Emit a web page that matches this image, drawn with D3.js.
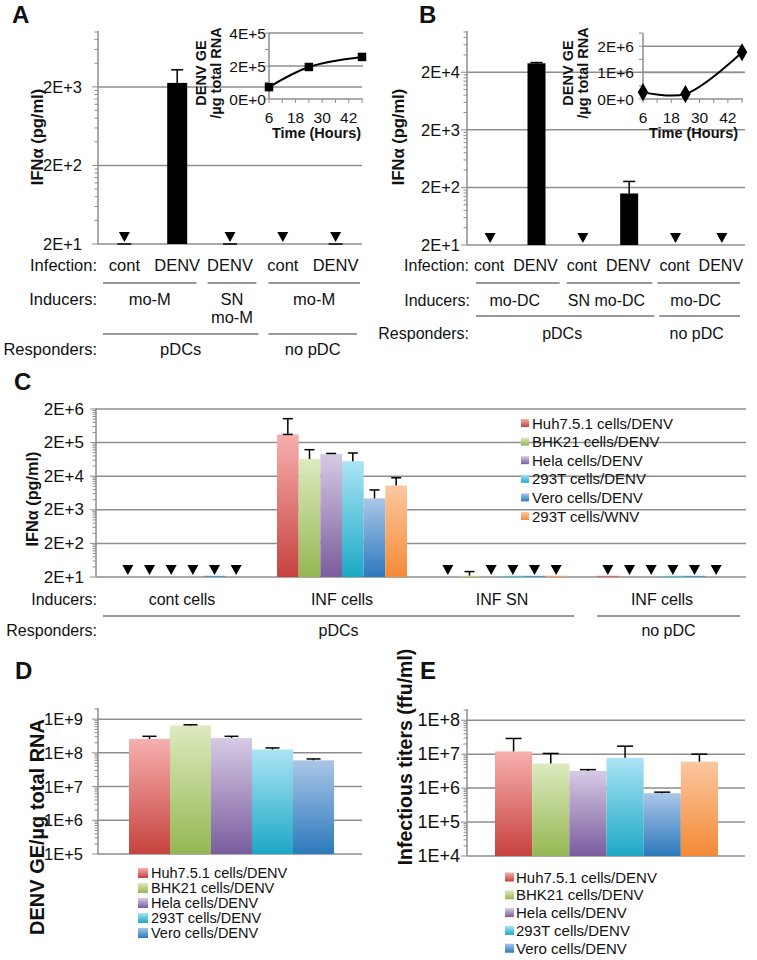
<!DOCTYPE html>
<html><head><meta charset="utf-8">
<script src="https://cdn.jsdelivr.net/npm/d3@7"></script>
<style>
body{margin:0;background:#fff}
svg{display:block}
text{font-family:"Liberation Sans",Arial,Helvetica,sans-serif;fill:#111}
</style></head>
<body>
<script>
// ================= DATA =================
// Panel A
const infectionA = ["cont","DENV","DENV","cont","DENV"];
const ifnA       = [0, 2250, 0, 0, 0];
const ifnErrA    = [20, 3300, 20, null, 20];
const inducersA  = [["mo-M"], ["SN","mo-M"], ["mo-M"]];
const inducerSpanA = [[0,1],[2,2],[3,4]];
const respondersA  = ["pDCs","no pDC"];
const responderSpanA = [[0,2],[3,4]];
const yTicksA = [20, 200, 2000];
// Inset A
const hoursA   = [6, 24, 48];
const genomesA = [72000, 194000, 255000];
const insetTicksA = [0, 200000, 400000];
const hourTicks = [6, 18, 30, 42];

// Panel B
const infectionB = ["cont","DENV","cont","DENV","cont","DENV"];
const ifnB       = [0, 28600, 0, 157, 0, 0];
const ifnErrB    = [null, 29500, null, 254, null, null];
const inducersB  = ["mo-DC","SN mo-DC","mo-DC"];
const inducerSpanB = [[0,1],[2,3],[4,5]];
const respondersB  = ["pDCs","no pDC"];
const responderSpanB = [[0,3],[4,5]];
const yTicksB = [20, 200, 2000, 20000];
// Inset B
const hoursB   = [6, 24, 48];
const genomesB = [260000, 190000, 1770000];
const insetTicksB = [0, 1000000, 2000000];

// Panel C
const cellLines = ["Huh7.5.1 cells/DENV","BHK21 cells/DENV","Hela cells/DENV","293T cells/DENV","Vero cells/DENV","293T cells/WNV"];
const cellColors = [["#F7B0AE","#C6423E"],["#DDEABF","#95B752"],["#D6CAE4","#7A5C9E"],["#ABE4F5","#1CA8C5"],["#AAC6E8","#2C79BC"],["#FCC7A0","#F48A36"]];
const inducersC = ["cont cells","INF cells","INF SN","INF cells"];
const respondersC = ["pDCs","no pDC"];
const responderSpanC = [[0,2],[3,3]];
const ifnC = [ // per cell line, per inducer group
  [20, 350000, 20, 22],
  [20, 65000, 22, 20],
  [20, 91000, 20, 20],
  [20, 56000, 22, 22],
  [22, 4400, 22, 22],
  [20, 10500, 22, 20]
];
const ifnErrC = [
  [null, 1030000, null, null],
  [null, 123000, 29, null],
  [null, 95000, null, null],
  [null, 98000, null, null],
  [null, 7800, null, null],
  [null, 18000, null, null]
];
const yTicksC = [20, 200, 2000, 20000, 200000, 2000000];

// Panel D
const cellLinesD = cellLines.slice(0,5);
const genomesD = [2.6e8, 6.5e8, 2.75e8, 1.26e8, 6.0e7];
const genomesErrD = [3.1e8, 6.8e8, 3.1e8, 1.4e8, 6.6e7];
const yTicksD = [1e5, 1e6, 1e7, 1e8, 1e9];

// Panel E
const titersE = [1.2e7, 5.3e6, 3.2e6, 7.8e6, 7.1e5, 6.0e6];
const titersErrE = [2.9e7, 1.05e7, 3.5e6, 1.72e7, 7.6e5, 1.0e7];
const legendE = cellLines.slice(0,5);
const yTicksE = [1e4, 1e5, 1e6, 1e7, 1e8];

// ================= DRAWING =================
const GRID = "#8e8e8e";
const svg = d3.select("body").append("svg").attr("width",757).attr("height",960);
const defs = svg.append("defs");
cellColors.forEach((c,i)=>{
  const g = defs.append("linearGradient").attr("id","grad"+i)
    .attr("x1",0).attr("y1",0).attr("x2",0).attr("y2",1);
  g.append("stop").attr("offset","0%").attr("stop-color",c[0]);
  g.append("stop").attr("offset","100%").attr("stop-color",c[1]);
});

const fmtE = v => {
  if (v === 0) return "0E+0";
  const e = Math.floor(Math.log10(v) + 1e-9);
  const m = Math.round(v / Math.pow(10, e));
  return m + "E+" + e;
};
function line(x1,y1,x2,y2,stroke=GRID,w=1.5){
  svg.append("line").attr("x1",x1).attr("y1",y1).attr("x2",x2).attr("y2",y2)
    .attr("stroke",stroke).attr("stroke-width",w);
}
function txt(x,y,s,o={}){
  const t = svg.append("text").attr("x",x).attr("y",y).text(s)
    .attr("font-size",o.size||16.5).attr("text-anchor",o.anchor||"start")
    .attr("dominant-baseline","central");
  if (o.bold) t.attr("font-weight","bold");
  if (o.rotate) t.attr("transform",`rotate(-90,${x},${y})`);
  return t;
}
function logFrame(y, x0, x1, majors, labelRight, size){
  const d = y.domain();
  for (let dec = majors[0]; dec <= d[1]*1.0001; dec *= 10){
    for (let k=1;k<10;k++){
      const v = dec*k; if (v > d[1]*1.0001) break;
      line(x0-(k===1?6:3.5), y(v), x0, y(v), GRID, 1);
    }
  }
  majors.forEach(v=>{
    line(x0, y(v), x1, y(v));
    txt(labelRight, y(v), fmtE(v), {anchor:"end", size});
  });
  line(x0, y(d[1])-1, x0, y(d[0]));
}
function errBar(cx, yFrom, yTo, cap){
  line(cx, yFrom, cx, yTo, "#000", 1.5);
  line(cx-cap/2, yTo, cx+cap/2, yTo, "#000", 1.5);
}
function ndMark(cx, yBase){
  svg.append("path").attr("d",`M${cx-5.5},${yBase-12}L${cx+5.5},${yBase-12}L${cx},${yBase-2}Z`).attr("fill","#000");
}
function panelLabel(x,y,s){ txt(x,y,s,{bold:true,size:24}); }

// line under a group of categories; ins = [left inset, right inset]
function spanLine(x, span, y, ins){
  const a = x(span[0]) + ins[0], b = x(span[1]) + x.bandwidth() - ins[1];
  line(a, y, b, y, "#777", 1.5);
  return (a + b)/2;
}

// ---------- Inset ----------
function inset(hours, vals, ticks, xr, yr, yMax, tickLblRight, marker, labelX){
  const x = d3.scaleLinear().domain([6,48]).range(xr);
  const y = d3.scaleLinear().domain([0,yMax]).range(yr);
  const step = ticks[1]/2;
  for (let v=0; v<=yMax+1; v+=step) line(x(6)-4, y(v), x(6), y(v), GRID, 1);
  ticks.forEach(v=>{ if (v>0) line(x(6), y(v), xr[1]+1, y(v)); txt(tickLblRight, y(v), fmtE(v), {anchor:"end", size:15.5}); });
  line(x(6), y(yMax), x(6), y(0)); line(x(6), y(0), xr[1]+1, y(0));
  for (let h=6; h<=48; h+=6) line(x(h), y(0), x(h), y(0)+4, GRID, 1);
  hourTicks.forEach(h=> txt(x(h), 117, h, {anchor:"middle", size:15.5}));
  txt((xr[0]+xr[1])/2+1, 133, "Time (Hours)", {anchor:"middle", bold:true, size:14.5});
  txt(labelX, 73, "DENV GE", {anchor:"middle", bold:true, size:14.5, rotate:true});
  txt(labelX+15, 73, "/µg total RNA", {anchor:"middle", bold:true, size:14.5, rotate:true});
  const pts = hours.map((h,i)=>[x(h), y(vals[i])]);
  svg.append("path").attr("d", d3.line().curve(d3.curveCatmullRom.alpha(0.5))(pts))
    .attr("fill","none").attr("stroke","#000").attr("stroke-width",2);
  pts.forEach(p=>{
    svg.append("path").attr("transform",`translate(${p[0]},${p[1]})`)
      .attr("d", d3.symbol().type(marker).size(marker===d3.symbolSquare?72:95)())
      .attr("fill","#000");
  });
}

// ---------- Panel A ----------
{
  panelLabel(12, 14, "A");
  const y = d3.scaleLog().domain([20, 1e4]).range([244, 32]);
  const x = d3.scaleBand().domain(d3.range(infectionA.length)).range([98, 362]);
  logFrame(y, 98, 362, yTicksA, 82, 16.5);
  txt(37, 137, "IFNα (pg/ml)", {anchor:"middle", bold:true, rotate:true});
  ifnA.forEach((v,i)=>{
    const cx = x(i) + x.bandwidth()/2;
    if (v > 0){
      svg.append("rect").attr("x",cx-10).attr("width",20).attr("y",y(v)).attr("height",y(20)-y(v)).attr("fill","#000");
      if (ifnErrA[i]) errBar(cx, y(v), y(ifnErrA[i]), 12);
    } else {
      ndMark(cx, y(20));
      if (ifnErrA[i]) line(cx-7, y(ifnErrA[i]), cx+7, y(ifnErrA[i]), "#000", 1.5);
    }
    txt(cx, 265, infectionA[i], {anchor:"middle"});
  });
  txt(97, 265, "Infection:", {anchor:"end"});
  txt(97, 299, "Inducers:", {anchor:"end"});
  const insA = [[5,7],[4,0],[12,2]];
  inducerSpanA.forEach((s,k)=>{
    const c = spanLine(x, s, 283, insA[k]);
    inducersA[k].forEach((l,j)=> txt(c, 299 + j*18, l, {anchor:"middle"}));
  });
  txt(97, 349, "Responders:", {anchor:"end"});
  const insAR = [[5,-2],[12,5]];
  responderSpanA.forEach((s,k)=>{
    const c = spanLine(x, s, 334, insAR[k]);
    txt(c, 349, respondersA[k], {anchor:"middle"});
  });
  inset(hoursA, genomesA, insetTicksA, [269, 362], [99, 33], 400000, 266, d3.symbolSquare, 201);
}

// ---------- Panel B ----------
{
  panelLabel(419, 14, "B");
  const y = d3.scaleLog().domain([20, 1e5]).range([245, 32]);
  const x = d3.scaleBand().domain(d3.range(infectionB.length)).range([467, 745]);
  logFrame(y, 467, 745, yTicksB, 460, 16.5);
  txt(398, 137, "IFNα (pg/ml)", {anchor:"middle", bold:true, rotate:true});
  ifnB.forEach((v,i)=>{
    const cx = x(i) + x.bandwidth()/2;
    if (v > 0){
      svg.append("rect").attr("x",cx-9).attr("width",18).attr("y",y(v)).attr("height",y(20)-y(v)).attr("fill","#000");
      if (ifnErrB[i]) errBar(cx, y(v), y(ifnErrB[i]), 12);
    } else ndMark(cx, y(20));
    txt(cx-1, 265, infectionB[i], {anchor:"middle", size:16});
  });
  txt(469, 265, "Infection:", {anchor:"end", size:16});
  txt(470, 300, "Inducers:", {anchor:"end", size:16});
  const insB = [[9,0],[7,0],[5,5]];
  inducerSpanB.forEach((s,k)=>{
    const c = spanLine(x, s, 283, insB[k]);
    txt(c-3, 300, inducersB[k], {anchor:"middle", size:16});
  });
  txt(469, 333, "Responders:", {anchor:"end", size:16});
  const insBR = [[9,-2],[7,5]];
  responderSpanB.forEach((s,k)=>{
    const c = spanLine(x, s, 316, insBR[k]);
    txt(c-3, 333, respondersB[k], {anchor:"middle", size:16});
  });
  inset(hoursB, genomesB, insetTicksB, [643, 742], [99, 33], 2500000, 634, d3.symbolDiamond, 568);
}

// ---------- Panel C ----------
{
  panelLabel(14, 381, "C");
  const y = d3.scaleLog().domain([20, 2e6]).range([577, 409]);
  const x = d3.scaleBand().domain(d3.range(inducersC.length)).range([102, 742]);
  const inner = d3.scaleBand().domain(d3.range(cellLines.length)).range([-65, 65]);
  logFrame(y, 96, 746, yTicksC, 84, 17);
  txt(32, 499, "IFNα (pg/ml)", {anchor:"middle", bold:true, size:16.3, rotate:true});
  cellLines.forEach((name,s)=>{
    ifnC[s].forEach((v,g)=>{
      const gx = x(g) + x.bandwidth()/2;
      const bx = gx + inner(s);
      const cx = bx + inner.bandwidth()/2;
      if (v > 20) svg.append("rect").attr("x",bx).attr("width",inner.bandwidth()).attr("y",y(v)).attr("height",y(20)-y(v)).attr("fill",`url(#grad${s})`);
      const e = ifnErrC[s][g];
      if (e) errBar(cx, y(v), y(e), 10);
      if (s===0 && g===1) line(cx-5, y(v), cx+5, y(v), "#000", 1.5);
      if (v <= 22 && !e) ndMark(cx, y(20));
    });
  });
  txt(97, 599, "Inducers:", {anchor:"end", size:16});
  inducersC.forEach((l,g)=> txt(x(g)+x.bandwidth()/2, 599, l, {anchor:"middle", size:16}));
  txt(97, 630, "Responders:", {anchor:"end", size:16});
  const insC = [[1,8],[15,2]];
  responderSpanC.forEach((s,k)=>{
    const c = spanLine(x, s, 616, insC[k]);
    txt(c, 630, respondersC[k], {anchor:"middle", size:16});
  });
  cellLines.forEach((name,s)=>{
    const yy = 423 + s*18.6;
    svg.append("rect").attr("x",521).attr("y",yy-4).attr("width",8).attr("height",8).attr("fill",`url(#grad${s})`);
    txt(532, yy, name, {size:15});
  });
}

// ---------- Panel D ----------
{
  panelLabel(15, 670, "D");
  const y = d3.scaleLog().domain([1e5, 2e9]).range([854, 709]);
  const x = d3.scaleBand().domain(d3.range(cellLinesD.length)).range([129, 334]);
  logFrame(y, 98, 362, yTicksD, 83, 16.5);
  txt(37, 827, "DENV GE/µg total RNA", {anchor:"middle", bold:true, size:20, rotate:true});
  genomesD.forEach((v,i)=>{
    svg.append("rect").attr("x",x(i)).attr("width",x.bandwidth()).attr("y",y(v)).attr("height",y(1e5)-y(v)).attr("fill",`url(#grad${i})`);
    errBar(x(i)+x.bandwidth()/2, y(v), y(genomesErrD[i]), 14);
  });
  cellLinesD.forEach((name,s)=>{
    const yy = 873 + s*15;
    svg.append("rect").attr("x",138).attr("y",yy-5).attr("width",10).attr("height",10).attr("fill",`url(#grad${s})`);
    txt(151, yy, name, {size:14.5});
  });
}

// ---------- Panel E ----------
{
  panelLabel(420, 670, "E");
  const y = d3.scaleLog().domain([1e4, 2e8]).range([856, 710]);
  const x = d3.scaleBand().domain(d3.range(titersE.length)).range([495, 718]);
  logFrame(y, 467, 745, yTicksE, 460, 18);
  txt(405, 757, "Infectious titers (ffu/ml)", {anchor:"middle", bold:true, size:19.5, rotate:true});
  titersE.forEach((v,i)=>{
    svg.append("rect").attr("x",x(i)).attr("width",x.bandwidth()).attr("y",y(v)).attr("height",y(1e4)-y(v)).attr("fill",`url(#grad${i})`);
    errBar(x(i)+x.bandwidth()/2, y(v), y(titersErrE[i]), 16);
  });
  legendE.forEach((name,s)=>{
    const yy = 877 + s*17.8;
    svg.append("rect").attr("x",505).attr("y",yy-4.5).attr("width",9).attr("height",9).attr("fill",`url(#grad${s})`);
    txt(516, yy, name, {size:15});
  });
}
</script>
</body></html>
